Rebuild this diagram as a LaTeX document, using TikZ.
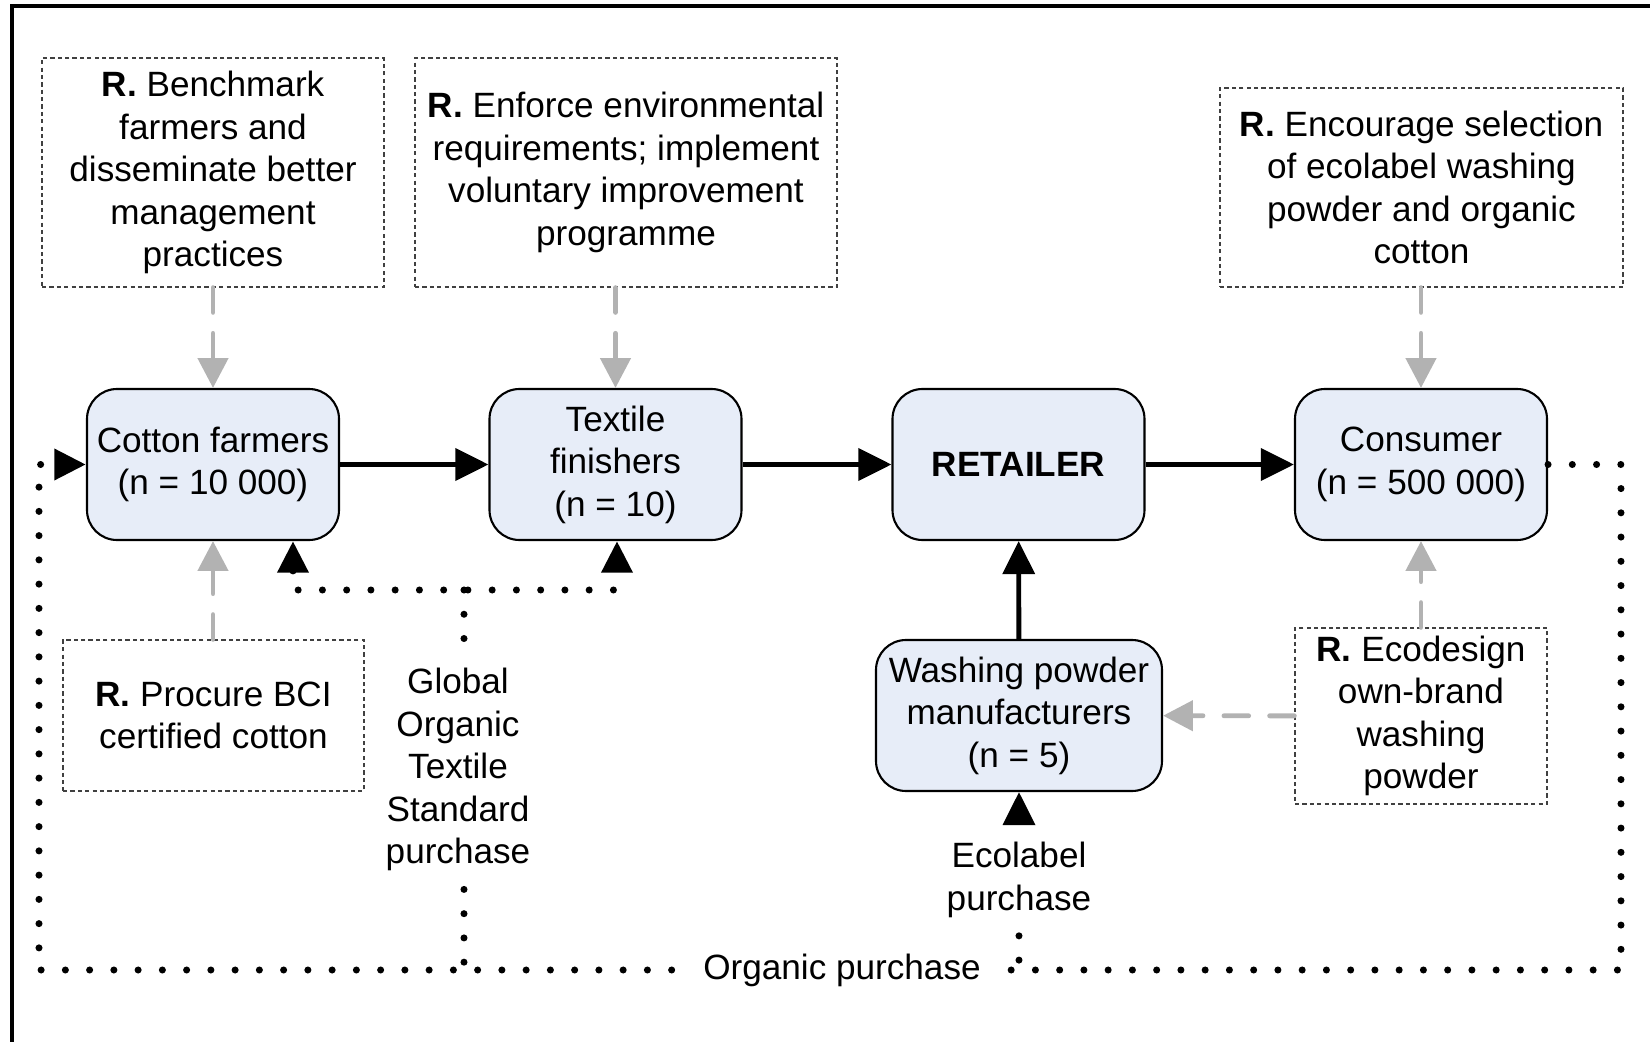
\documentclass[tikz,border=0pt]{standalone}
\usepackage{fontspec}
\setmainfont{Liberation Sans}
\usetikzlibrary{arrows.meta}
\definecolor{actorfill}{RGB}{231,237,248}
\definecolor{hintgray}{RGB}{178,178,178}
\tikzset{
  actor/.style={draw, fill=actorfill, rounded corners=0.3cm, line width=0.6pt,
    align=center, inner sep=0pt, minimum width=2.52cm, minimum height=1.51cm},
  advice/.style={draw=black!75, dash pattern=on 1.2pt off 0.9pt, line width=0.4pt,
    align=center, inner sep=0pt},
  purchase/.style={align=center, inner sep=5pt},
  flow/.style={line width=1.4pt, -{Triangle[length=9.4pt,width=9pt]}},
  hint/.style={hintgray, line width=1.4pt, line cap=round, dash pattern=on 7pt off 6pt,
    -{Triangle[length=8.5pt,width=8.5pt]}},
  dotline/.style={line width=2pt, line cap=round, dash pattern=on 0pt off 6.9pt},
  dothead/.tip={Triangle[length=9pt,width=8.5pt]}
}
\begin{document}
\begin{tikzpicture}[font=\fontsize{10}{12.1}\selectfont]
            \useasboundingbox (0,0) rectangle (16.5,10.41);
            \draw[line width=1.3pt] (0.12,-0.5) -- (0.12,10.35) -- (17,10.35);
        % recommendations
            \draw (2.13,8.685) node[advice, minimum width=3.42cm, minimum height=2.29cm] (bench)
                {\textbf{R.} Benchmark\\ farmers and\\ disseminate better\\ management\\ practices};
            \draw (6.26,8.685) node[advice, minimum width=4.22cm, minimum height=2.29cm] (enforce)
                {\textbf{R.} Enforce environmental\\ requirements; implement\\ voluntary improvement\\ programme};
            \draw (14.215,8.535) node[advice, minimum width=4.03cm, minimum height=1.99cm] (encourage)
                {\textbf{R.} Encourage selection\\ of ecolabel washing\\ powder and organic\\ cotton};
            \draw (2.135,3.255) node[advice, minimum width=3.01cm, minimum height=1.51cm] (procure)
                {\textbf{R.} Procure BCI\\ certified cotton};
            \draw (14.21,3.25) node[advice, minimum width=2.52cm, minimum height=1.76cm] (ecodesign)
                {\textbf{R.} Ecodesign\\ own-brand\\ washing\\ powder};
        % actors
            \draw (2.13,5.765) node[actor] (cotton) {Cotton farmers\\ (n = 10 000)};
            \draw (6.155,5.765) node[actor] (textile) {Textile\\ finishers\\ (n = 10)};
            \draw (10.185,5.765) node[actor] (retailer) {\textbf{RETAILER}};
            \draw (14.21,5.765) node[actor] (consumer) {Consumer\\ (n = 500 000)};
            \draw (10.19,3.255) node[actor, minimum width=2.86cm] (washing)
                {Washing powder\\ manufacturers\\ (n = 5)};
        % purchase labels
            \draw (4.58,3.91) node[purchase, anchor=north] (gots)
                {Global\\ Organic\\ Textile\\ Standard\\ purchase};
            \draw (10.19,2.17) node[purchase, anchor=north] (ecolab) {Ecolabel\\ purchase};
            \coordinate (blc) at (0.39,0.71);
            \coordinate (brc) at (16.21,0.71);
            \coordinate (gl) at (2.93,4.51);
            \coordinate (gj) at (4.64,4.51);
            \coordinate (gr) at (6.17,4.51);
        %
            \draw[flow] (cotton) -- (textile);
            \draw[flow] (textile) -- (retailer);
            \draw[flow] (retailer) -- (consumer);
            \draw[flow] (washing) -- (retailer);
            \draw[flow] (ecolab.north) -- (washing.south);
        %
            \draw[hint] (bench) -- (cotton);
            \draw[hint] (enforce.south -| textile) -- (textile);
            \draw[hint] (encourage.south -| consumer) -- (consumer);
            \draw[hint] (procure.north -| cotton) -- (cotton);
            \draw[hint] (ecodesign) -- (consumer);
            \draw[hint] (ecodesign) -- (washing);
        %
            \draw[dotline, -dothead] (consumer.east) -| (brc) -- (blc) |- (cotton.west);
            \draw[dotline, dothead-dothead] (cotton.south -| gl) -- (gl) -- (gr) -- (textile.south -| gr);
            \draw[dotline] (gj) -- (gj |- gots.north);
            \draw[dotline] (gj |- gots.south) -- (gj |- blc);
            \draw[dotline] (ecolab.south) -- (ecolab.south |- blc);
            \draw (8.42,0.71) node[fill=white, inner xsep=4pt, inner ysep=1pt] (organic) {Organic purchase};
        \end{tikzpicture}
\end{document}
